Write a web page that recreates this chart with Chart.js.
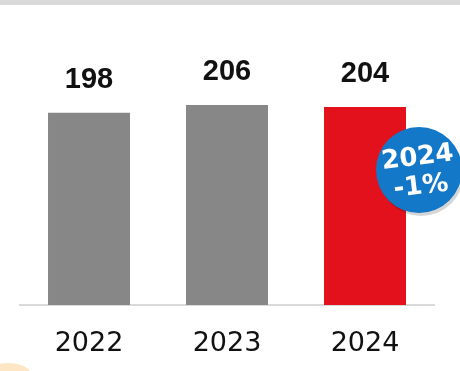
<!DOCTYPE html>
<html>
<head>
<meta charset="utf-8">
<script src="https://cdn.jsdelivr.net/npm/chart.js@4.4.1/dist/chart.umd.min.js"></script>
<style>
  html, body { margin: 0; padding: 0; background: #fff; }
  #wrap { width: 460px; height: 371px; position: relative; }
</style>
</head>
<body>
<div id="wrap"><canvas id="chart"></canvas></div>
<script>
        // datos
        const years = ['2022', '2023', '2024'];
        const values = [198, 206, 204];
        const barColors = ['#878787', '#878787', '#e3111b'];
        const badgeLines = ['2024', '-1%'];

        // etiquetas de valor sobre las barras + banda superior + circulo azul
        const decor = {
            id: 'decor',
            beforeDraw(chart) {
                const ctx = chart.ctx;
                ctx.save();
                ctx.fillStyle = '#d9d9d9';
                ctx.fillRect(0, 0, chart.width, 5);
                // mancha naranja abajo a la izquierda
                ctx.fillStyle = '#fde6c4';
                ctx.beginPath();
                ctx.ellipse(8, 376, 24, 13, 0, 0, Math.PI * 2);
                ctx.fill();
                ctx.restore();
            },
            afterDatasetsDraw(chart) {
                const ctx = chart.ctx;
                const meta = chart.getDatasetMeta(0);
                ctx.save();
                ctx.fillStyle = '#111';
                ctx.font = 'bold 29px "Liberation Sans", Arial, sans-serif';
                ctx.textAlign = 'center';
                ctx.textBaseline = 'alphabetic';
                meta.data.forEach((bar, i) => {
                    ctx.fillText(values[i], bar.x, bar.y - 25);
                });

                // circulo
                const cx = 419, cy = 170, r = 43;
                ctx.fillStyle = 'rgba(0,0,0,0.16)';
                ctx.beginPath();
                ctx.arc(cx + 2, cy + 3, r, 0, Math.PI * 2);
                ctx.fill();
                ctx.fillStyle = '#1478c8';
                ctx.beginPath();
                ctx.arc(cx, cy, r, 0, Math.PI * 2);
                ctx.fill();
                ctx.translate(cx, cy);
                ctx.rotate(-0.12);
                ctx.fillStyle = '#fff';
                ctx.font = 'bold 26px "DejaVu Sans", sans-serif';
                ctx.textBaseline = 'middle';
                ctx.fillText(badgeLines[0], 0, -12);
                ctx.fillText(badgeLines[1], 0, 17);
                ctx.restore();
            }
        };

        const ctx = document.getElementById('chart').getContext('2d');
        new Chart(ctx, {
            type: 'bar',
            data: {
                labels: years,
                datasets: [{
                    data: values,
                    backgroundColor: barColors,
                    barPercentage: 0.594,
                    categoryPercentage: 1
                }]
            },
            options: {
                responsive: true,
                maintainAspectRatio: false,
                animation: false,
                layout: { padding: { top: 72, left: 20, right: 26, bottom: 0 } },
                plugins: { legend: { display: false }, tooltip: { enabled: false } },
                scales: {
                    x: {
                        grid: { display: false, drawTicks: false },
                        border: { color: '#d9d9d9', width: 2 },
                        ticks: {
                            color: '#111',
                            padding: 23,
                            maxRotation: 0,
                            font: { size: 27, family: '"DejaVu Sans", sans-serif' }
                        },
                        afterFit(scale) { scale.height = 66; }
                    },
                    y: {
                        display: false,
                        min: 0,
                        max: 240
                    }
                }
            },
            plugins: [decor]
        });
</script>
</body>
</html>
